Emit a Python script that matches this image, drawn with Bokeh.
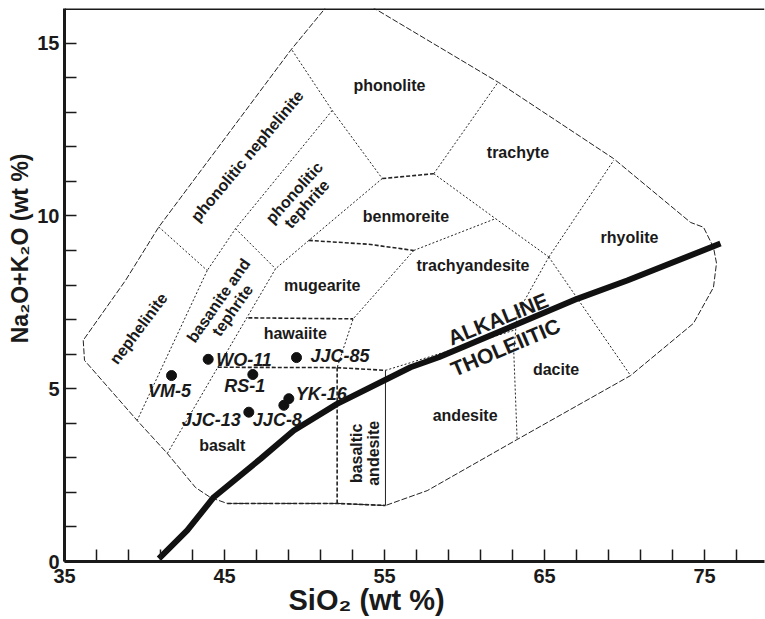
import math
from bokeh.plotting import figure
from bokeh.models import FixedTicker, Range1d, Span, ColumnDataSource, Title
from bokeh.core.properties import value
from bokeh.embed import file_html
from bokeh.resources import INLINE

# ---------------- data ----------------
x_ticks = list(range(35, 79, 2))
x_tick_labels = {35: "35", 45: "45", 55: "55", 65: "65", 75: "75"}
y_ticks = list(range(0, 16))
y_tick_labels = {0: "0", 5: "5", 10: "10", 15: "15"}

# outer field boundary
outer_x = [36.17, 36.25, 39.54, 41.42, 43.19, 44.13, 45.17, 52.04, 55.06, 57.67, 63.29, 70.38,
           74.31, 75.56, 75.75, 75.56, 74.94, 74.13, 69.31, 62.13, 54.56, 52.2, 51.19, 49.13,
           40.88, 38.81, 36.17]
outer_y = [6.40, 5.82, 4.08, 3.13, 2.14, 1.85, 1.68, 1.68, 1.62, 2.05, 3.53, 5.38,
           6.89, 7.93, 8.63, 9.09, 9.67, 9.81, 11.66, 13.86, 15.95, 16.6, 15.95, 14.79,
           9.67, 8.13, 6.40]

# fine dotted internal boundaries
neph_phnep_x, neph_phnep_y = [40.89, 43.92], [9.68, 8.42]
neph_bas_x, neph_bas_y = [43.92, 39.54], [8.42, 4.08]
phnep_phtep_x, phnep_phtep_y = [51.73, 45.69, 43.92], [13.05, 9.63, 8.42]
phnep_phon_x, phnep_phon_y = [49.23, 51.73, 54.86], [14.79, 13.05, 11.08]
phtep_bas_x, phtep_bas_y = [45.69, 48.19], [9.63, 8.47]
phtep_right_x, phtep_right_y = [54.86, 50.27, 48.19], [11.08, 9.29, 8.47]
phon_trach_x, phon_trach_y = [58.08, 62.04], [11.22, 13.83]
trach_benm_x, trach_benm_y = [58.08, 61.94], [11.22, 9.92]
benm_tra_x, benm_tra_y = [56.83, 61.94], [9.00, 9.92]
trach_tra_x, trach_tra_y = [61.94, 65.27], [9.92, 8.81]
trach_rhy_x, trach_rhy_y = [65.27, 69.33], [8.81, 11.61]
tra_rhy_x, tra_rhy_y = [65.27, 70.38], [8.81, 5.38]
tra_dac_x, tra_dac_y = [65.27, 63.29, 63.08, 63.29], [8.81, 7.17, 6.06, 3.53]
and_top_x, and_top_y = [55.06, 58.08, 63.15], [5.53, 5.96, 6.70]
mug_right_x, mug_right_y = [56.83, 53.04, 52.04], [9.00, 7.02, 5.61]
bas_right_x, bas_right_y = [48.19, 41.42], [8.47, 3.12]

# heavier dashed boundaries
benm_top_x, benm_top_y = [54.86, 58.08], [11.08, 11.22]
benm_bot_x, benm_bot_y = [50.27, 54.0, 56.83], [9.29, 9.18, 9.00]
ba_top_x, ba_top_y = [52.04, 55.06], [5.61, 5.53]
ba_left_x, ba_left_y = [52.04, 52.04], [5.61, 1.68]
haw_bot_x, haw_bot_y = [44.58, 52.04], [5.62, 5.61]
haw_top_x, haw_top_y = [46.49, 53.04], [7.05, 7.02]
basalt_bot_x, basalt_bot_y = [45.17, 52.04, 55.06], [1.68, 1.68, 1.62]

# solid thin boundary
ba_right_x, ba_right_y = [55.06, 55.06], [5.53, 1.62]

# alkaline / tholeiitic divide
divide_x = [40.9, 42.67, 44.33, 47.25, 49.33, 52.04, 56.63, 58.39, 67.04, 70.17, 76.0]
divide_y = [0.08, 0.90, 1.86, 2.97, 3.79, 4.56, 5.62, 5.91, 7.60, 8.13, 9.2]

# samples
sample_names = ["VM-5", "WO-11", "RS-1", "JJC-85", "YK-16", "JJC-13", "JJC-8"]
sample_sio2 = [41.69, 43.98, 46.77, 49.50, 49.02, 46.52, 48.71]
sample_alk = [5.38, 5.85, 5.41, 5.90, 4.71, 4.32, 4.52]

# field names
field_names = ["phonolite", "trachyte", "benmoreite", "rhyolite", "trachyandesite",
               "mugearite", "hawaiite", "basalt", "dacite", "andesite"]
field_x = [55.31, 63.34, 56.34, 70.31, 60.53, 51.11, 49.42, 44.86, 65.72, 60.04]
field_y = [13.78, 11.84, 9.99, 9.38, 8.55, 7.99, 6.60, 3.36, 5.56, 4.23]

rot_names = ["basaltic\nandesite", "nephelinite", "basanite and\ntephrite",
             "phonolitic nephelinite", "phonolitic\ntephrite"]
rot_x = [53.75, 39.63, 45.06, 46.42, 49.75]
rot_y = [3.13, 6.74, 7.41, 11.73, 10.51]
rot_deg = [90, 53, 55, 50, 48]

series_names = ["ALKALINE", "THOLEIITIC"]
series_x = [62.09, 62.56]
series_y = [7.02, 6.20]
series_deg = [22, 23]

x_title = "SiO\u2082 (wt %)"
y_title = "Na\u2082O+K\u2082O (wt %)"

# ---------------- figure ----------------
FONT = "Liberation Sans"
INK = "#1a1a1a"
p = figure(width=765, height=619, x_range=Range1d(35, 78.75), y_range=Range1d(0, 16),
           output_backend="svg", toolbar_location=None, title=None,
           min_border_left=64, min_border_right=1, min_border_top=8, min_border_bottom=58)
p.outline_line_color = None
p.xgrid.visible = False
p.ygrid.visible = False
p.background_fill_color = "white"
p.border_fill_color = "white"

for ax, ticks, labs in ((p.xaxis[0], x_ticks, x_tick_labels), (p.yaxis[0], y_ticks, y_tick_labels)):
    ax.ticker = FixedTicker(ticks=ticks)
    ax.major_label_overrides = {t: labs.get(t, "") for t in ticks}
    ax.axis_line_width = 3
    ax.axis_line_color = INK
    ax.major_tick_in = 12
    ax.major_tick_out = 0
    ax.major_tick_line_width = 1.5
    ax.major_tick_line_color = INK
    ax.minor_tick_line_color = None
    ax.major_label_text_font = FONT
    ax.major_label_text_font_style = "bold"
    ax.major_label_text_font_size = "20px"
    ax.major_label_text_color = INK
p.xaxis[0].major_label_standoff = 7
p.yaxis[0].major_label_standoff = 5

p.add_layout(Span(location=16, dimension="width", line_width=3, line_color=INK))

# axis titles as side-panel titles
xt = Title(text=x_title, align="left", offset=224, vertical_align="bottom",
           text_font=FONT, text_font_style="bold", text_font_size="29px", text_color=INK)
yt = Title(text=y_title, align="right", offset=145, vertical_align="top",
           text_font=FONT, text_font_style="bold", text_font_size="23px", text_color=INK)
for t in (xt, yt):
    try:
        t.standoff = -8
    except Exception:
        t.standoff = 0
yt.standoff = 0
p.add_layout(xt, "below")
p.add_layout(yt, "left")

def ml(xs, ys, dash, width):
    src = ColumnDataSource(dict(xs=xs, ys=ys))
    p.multi_line("xs", "ys", source=src, line_color="#222222", line_width=width,
                 line_dash=dash)

ml([outer_x], [outer_y], "6 2", 1)
ml([neph_phnep_x, neph_bas_x, phnep_phtep_x, phnep_phon_x, phtep_bas_x, phtep_right_x,
    phon_trach_x, trach_benm_x, benm_tra_x, trach_tra_x, trach_rhy_x, tra_rhy_x, tra_dac_x,
    and_top_x, mug_right_x, bas_right_x],
   [neph_phnep_y, neph_bas_y, phnep_phtep_y, phnep_phon_y, phtep_bas_y, phtep_right_y,
    phon_trach_y, trach_benm_y, benm_tra_y, trach_tra_y, trach_rhy_y, tra_rhy_y, tra_dac_y,
    and_top_y, mug_right_y, bas_right_y], "2 2", 1)
ml([benm_top_x, benm_bot_x, ba_top_x, ba_left_x, haw_bot_x, haw_top_x, basalt_bot_x],
   [benm_top_y, benm_bot_y, ba_top_y, ba_left_y, haw_bot_y, haw_top_y, basalt_bot_y], "4 2", 1.6)
ml([ba_right_x], [ba_right_y], "solid", 1)

p.line(divide_x, divide_y, line_color="#111111", line_width=6)

p.scatter(sample_sio2, sample_alk, size=10, color="#111111")

# sample labels
s_xoff = [-2, 8, -8, 14, 7, -8, -31]
s_yoff = [15, 1, 11, -2, -5, 8, 15]
s_align = ["center", "left", "center", "left", "left", "right", "left"]
p.text(x=sample_sio2, y=sample_alk, text=sample_names, x_offset=s_xoff, y_offset=s_yoff,
       text_align=s_align, text_baseline="middle", text_font=value(FONT),
       text_font_style="bold italic", text_font_size="18px", text_color=INK)

p.text(x=field_x, y=field_y, text=field_names, text_align="center", text_baseline="middle",
       text_font=value(FONT), text_font_style="bold", text_font_size="16px", text_color=INK)
p.text(x=rot_x, y=rot_y, text=rot_names, angle=[math.radians(a) for a in rot_deg],
       text_align="center", text_baseline="middle", text_line_height=1.0,
       text_font=value(FONT), text_font_style="bold", text_font_size="16px", text_color=INK)
p.text(x=series_x, y=series_y, text=series_names, angle=[math.radians(a) for a in series_deg],
       text_align="center", text_baseline="middle",
       text_font=value(FONT), text_font_style="bold", text_font_size="21px", text_color=INK)

open("out.html", "w").write(file_html(p, INLINE))
